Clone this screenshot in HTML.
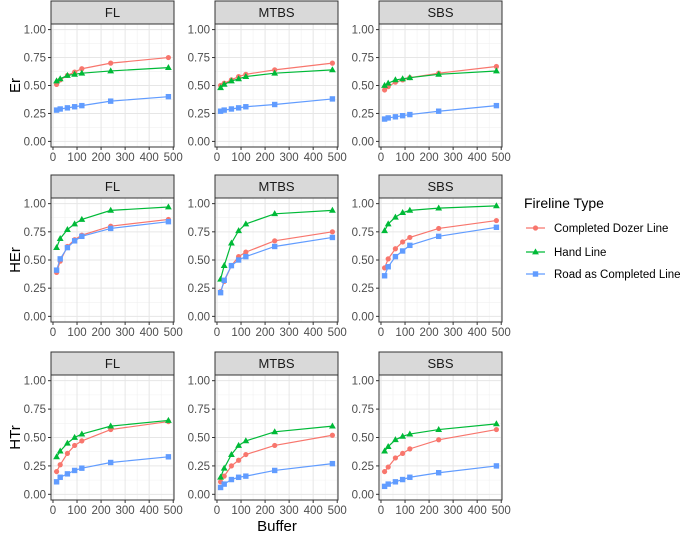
<!DOCTYPE html>
<html><head><meta charset="utf-8"><style>
body{margin:0;background:#fff;}
svg{display:block;font-family:"Liberation Sans",sans-serif;}
</style></head><body>
<svg id="chart" width="685" height="536"></svg>
<script>
const buffers=[15,30,60,90,120,240,480];
const rowLabels=["Er","HEr","HTr"];
const colLabels=["FL","MTBS","SBS"];
const seriesNames=["Completed Dozer Line","Hand Line","Road as Completed Line"];
const xTicks=[0,100,200,300,400,500];
const yTicks=[0,0.25,0.5,0.75,1];
const yTickLabels=["0.00","0.25","0.50","0.75","1.00"];
// values[row][col][series]
const erFL=[[.51,.55,.59,.62,.65,.70,.75],[.54,.56,.59,.60,.61,.63,.66],[.28,.29,.30,.31,.32,.36,.40]];
const erMTBS=[[.50,.52,.55,.58,.60,.64,.70],[.48,.51,.54,.56,.58,.61,.64],[.27,.28,.29,.30,.31,.33,.38]];
const erSBS=[[.46,.49,.53,.55,.57,.61,.67],[.50,.52,.55,.56,.57,.60,.63],[.20,.21,.22,.23,.24,.27,.32]];
const herFL=[[.39,.49,.62,.68,.72,.80,.86],[.61,.69,.77,.82,.86,.94,.97],[.41,.51,.61,.67,.71,.78,.84]];
const herMTBS=[[.22,.31,.45,.53,.57,.67,.75],[.33,.45,.65,.76,.82,.91,.94],[.21,.32,.45,.50,.53,.62,.70]];
const herSBS=[[.43,.51,.60,.66,.70,.78,.85],[.76,.82,.88,.92,.94,.96,.98],[.36,.44,.53,.58,.63,.71,.79]];
const htrFL=[[.20,.26,.36,.43,.47,.57,.64],[.33,.38,.45,.50,.53,.60,.65],[.11,.15,.18,.21,.23,.28,.33]];
const htrMTBS=[[.11,.16,.25,.30,.35,.43,.52],[.15,.23,.35,.43,.47,.55,.60],[.06,.09,.13,.15,.16,.21,.27]];
const htrSBS=[[.20,.24,.32,.36,.40,.48,.57],[.38,.42,.48,.51,.53,.57,.62],[.07,.09,.11,.13,.15,.19,.25]];
const values=[[erFL,erMTBS,erSBS],[herFL,herMTBS,herSBS],[htrFL,htrMTBS,htrSBS]];
const colors=["#F8766D","#00BA38","#619CFF"];

const NS="http://www.w3.org/2000/svg";
const svg=document.getElementById("chart");
function mk(tag,attrs,parent){const e=document.createElementNS(NS,tag);for(const k in attrs)e.setAttribute(k,attrs[k]);(parent||svg).appendChild(e);return e;}
const colX=[51,215,379], panelW=123;
const rowStrip=[1,175,352], stripH=23, panelH=[123,124,125];
function shape(g,s,x,y){
  let e;
  if(s===0)e=mk("circle",{cx:x,cy:y,r:2.6,fill:colors[0]},g);
  else if(s===1)e=mk("polygon",{points:`${x},${y-3.6} ${x-3.4},${y+2.4} ${x+3.4},${y+2.4}`,fill:colors[1]},g);
  else e=mk("rect",{x:x-2.7,y:y-2.7,width:5.4,height:5.4,fill:colors[2]},g);
  return e;
}
for(let r=0;r<3;r++){
  for(let c=0;c<3;c++){
    const px=colX[c], st=rowStrip[r], py=st+stripH, ph=panelH[r];
    const xs=v=>px+(v+8.25)/511.5*panelW;
    const ys=v=>py+ph-(v+0.05)/1.1*ph;
    const g=mk("g",{});
    
    
    mk("rect",{x:px,y:py,width:panelW,height:ph,fill:"#fff"},g);
    // minor grid
    for(let i=0;i<xTicks.length-1;i++){const xv=(xTicks[i]+xTicks[i+1])/2;mk("line",{x1:xs(xv),x2:xs(xv),y1:py,y2:py+ph,stroke:"#f0f0f0","stroke-width":0.6},g);}
    for(let i=0;i<yTicks.length-1;i++){const yv=(yTicks[i]+yTicks[i+1])/2;mk("line",{x1:px,x2:px+panelW,y1:ys(yv),y2:ys(yv),stroke:"#f0f0f0","stroke-width":0.6},g);}
    xTicks.forEach(t=>mk("line",{x1:xs(t),x2:xs(t),y1:py,y2:py+ph,stroke:"#e6e6e6","stroke-width":1},g));
    yTicks.forEach(t=>mk("line",{x1:px,x2:px+panelW,y1:ys(t),y2:ys(t),stroke:"#e6e6e6","stroke-width":1},g));
    mk("rect",{x:px,y:py,width:panelW,height:ph,fill:"none",stroke:"#333","stroke-width":1},g);
    // strip
    const s=mk("rect",{x:px,y:st,width:panelW,height:stripH,fill:"#d9d9d9",stroke:"#333","stroke-width":1},g);
    
    
    const stt=mk("text",{x:px+panelW/2,y:st+stripH/2+4.5,"text-anchor":"middle","font-size":13,fill:"#1a1a1a"},g);stt.textContent=colLabels[c];
    // ticks
    yTicks.forEach((t,i)=>{mk("line",{x1:px-3,x2:px,y1:ys(t),y2:ys(t),stroke:"#333"},g);
      const tt=mk("text",{x:px-5,y:ys(t)+4,"text-anchor":"end","font-size":11.5,fill:"#4d4d4d"},g);tt.textContent=yTickLabels[i];});
    xTicks.forEach(t=>{mk("line",{x1:xs(t),x2:xs(t),y1:py+ph,y2:py+ph+3,stroke:"#333"},g);
      const tt=mk("text",{x:xs(t),y:py+ph+14,"text-anchor":"middle","font-size":11.5,fill:"#4d4d4d"},g);tt.textContent=t;});
    // series
    for(let si=0;si<3;si++){
      const vals=values[r][c][si];
      const pts=buffers.map((b,i)=>xs(b)+","+ys(vals[i])).join(" ");
      const pl=mk("polyline",{points:pts,fill:"none",stroke:colors[si],"stroke-width":1.2},g);
      
      
      buffers.forEach((b,i)=>{const m=shape(g,si,xs(b),ys(vals[i]));
        
        });
    }
  }
  const ycy=rowStrip[r]+stripH+panelH[r]/2;
  const yl=mk("text",{x:0,y:0,transform:`translate(20,${ycy}) rotate(-90)`,"text-anchor":"middle","font-size":15,fill:"#000"});
  
  
  yl.textContent=rowLabels[r];
}
const xl=mk("text",{x:277,y:531,"text-anchor":"middle","font-size":15,fill:"#000"});


xl.textContent="Buffer";
// legend
const lg=mk("g",{});


const lt=mk("text",{x:524,y:208,"font-size":14,fill:"#000"},lg);lt.textContent="Fireline Type";
const ly=[228,252,274];
seriesNames.forEach((n,i)=>{
  const e=mk("g",{},lg);
  
  
  mk("line",{x1:526,x2:545,y1:ly[i],y2:ly[i],stroke:colors[i],"stroke-width":1.2},e);
  shape(e,i,535.5,ly[i]);
  const t=mk("text",{x:554,y:ly[i]+4,"font-size":11.5,fill:"#000"},e);t.textContent=n;
});
</script>
</body></html>
